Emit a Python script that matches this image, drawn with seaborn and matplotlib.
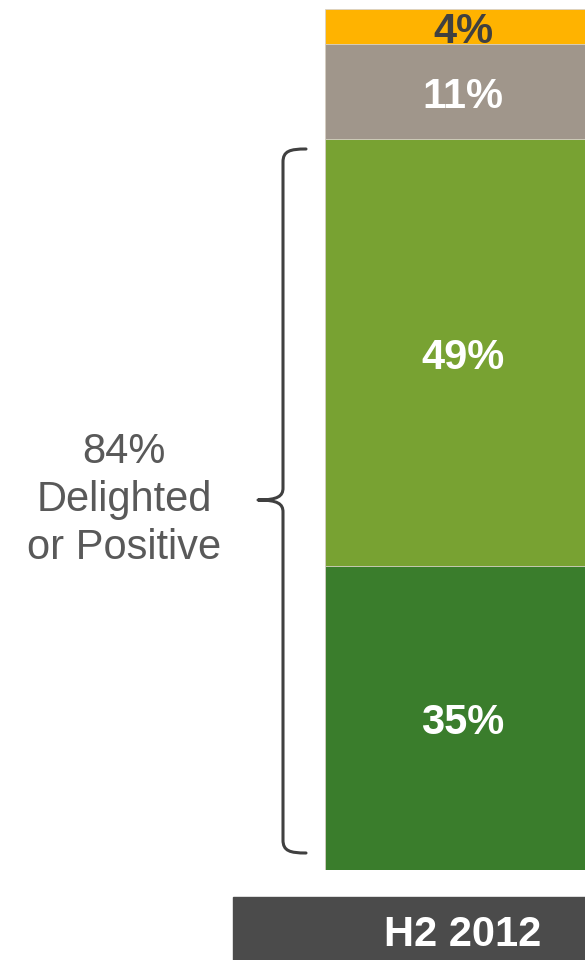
import matplotlib
matplotlib.use("Agg")
import matplotlib.pyplot as plt
from matplotlib.path import Path
from matplotlib.patches import PathPatch, Rectangle
import seaborn as sns
import pandas as pd
import numpy as np

sns.set_theme(style="white")
plt.rcParams['font.family'] = ['Liberation Sans', 'DejaVu Sans']

# Data
segments = ["Delighted", "Positive", "Neutral", "Negative"]
values = [35, 49, 11, 4]
colors = ["#3A7D2C", "#78A232", "#A0968B", "#FFB300"]
label_colors = ["white", "white", "white", "#404040"]
category = "H2 2012"
bracket_text = "84%\nDelighted\nor Positive"

W, H = 585, 960
fig = plt.figure(figsize=(W / 100, H / 100), dpi=100)

# Overlay axes in pixel coords for decorations
ax0 = fig.add_axes([0, 0, 1, 1])
ax0.set_xlim(0, W)
ax0.set_ylim(H, 0)
ax0.axis("off")

# Bar axes
bar_left, bar_right = 325, 601
bar_top, bar_bottom = 9, 870
ax = fig.add_axes([bar_left / W, (H - bar_bottom) / H,
                   (bar_right - bar_left) / W, (bar_bottom - bar_top) / H])
ax.patch.set_alpha(0)
cum = np.cumsum(values)
for i in range(len(values) - 1, -1, -1):
    df = pd.DataFrame({"cat": [category], "v": [cum[i]]})
    sns.barplot(data=df, x="cat", y="v", color=colors[i], width=1.0,
                saturation=1, ax=ax, edgecolor="#d8d2c8", linewidth=0.6)
ax.set_xlim(-0.5, 0.5)
ax.set_ylim(0, cum[-1])
ax.axis("off")

for i, v in enumerate(values):
    center = cum[i] - v / 2
    ax.annotate(f"{v}%", (0, center), xytext=(0, -4), textcoords="offset points",
                ha="center", va="center", fontsize=30,
                fontweight="bold", color=label_colors[i])

# Category box
ax0.add_patch(Rectangle((233, 897), W - 233, H - 897, color="#4B4B4B", zorder=1))
ax0.text(463, 935, category, ha="center", va="center", fontsize=30,
         fontweight="bold", color="white", zorder=2)

# Bracket
verts = [(306, 149), (290, 149), (283, 151), (283, 162),
         (283, 488),
         (283, 496), (278, 500), (258, 500),
         (278, 500), (283, 504), (283, 512),
         (283, 840),
         (283, 851), (290, 853), (306, 853)]
codes = [Path.MOVETO, Path.CURVE4, Path.CURVE4, Path.CURVE4,
         Path.LINETO,
         Path.CURVE4, Path.CURVE4, Path.CURVE4,
         Path.CURVE4, Path.CURVE4, Path.CURVE4,
         Path.LINETO,
         Path.CURVE4, Path.CURVE4, Path.CURVE4]
ax0.add_patch(PathPatch(Path(verts, codes), facecolor="none",
                        edgecolor="#404040", lw=2.2, capstyle="round",
                        joinstyle="round"))

ax0.text(124, 500, bracket_text, ha="center", va="center", fontsize=30,
         color="#595959", linespacing=1.27)

fig.savefig("out.png", dpi=100)
